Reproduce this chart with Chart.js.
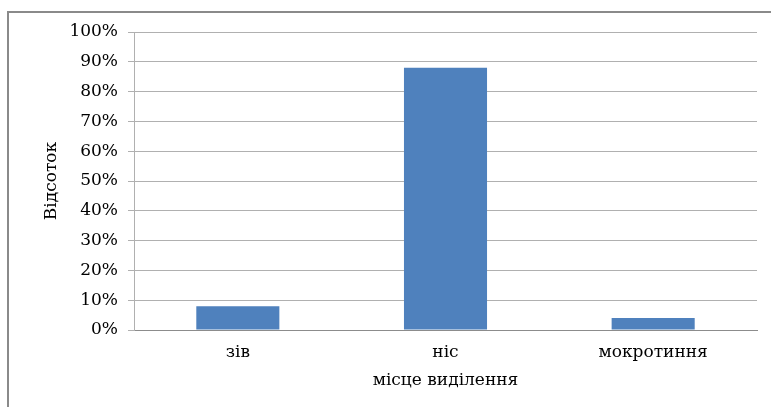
<!DOCTYPE html>
<html>
<head>
<meta charset="utf-8">
<script src="https://cdn.jsdelivr.net/npm/chart.js@4"></script>
<style>
html,body{margin:0;padding:0;background:#fff;overflow:hidden;}
#frame{position:absolute;left:7px;top:11px;width:800px;height:420px;border:2px solid #8a8a8a;box-sizing:border-box;}
#wrap{position:absolute;left:0;top:0;width:771px;height:407px;}
</style>
</head>
<body>
<div id="frame"></div>
<div id="wrap"><canvas id="c" width="771" height="407"></canvas></div>
<script>
const categories = ['зів', 'ніс', 'мокротиння'];
const values = [8, 88, 4];
const yTicks = [0, 10, 20, 30, 40, 50, 60, 70, 80, 90, 100];
const yTitle = 'Відсоток';
const xTitle = 'місце виділення';

const FONT = '"DejaVu Serif", "Liberation Serif", serif';

new Chart(document.getElementById('c'), {
  type: 'bar',
  data: {
    labels: categories,
    datasets: [{
      data: values,
      backgroundColor: '#4F81BD',
      borderWidth: 0,
      categoryPercentage: 1,
      barPercentage: 0.4
    }]
  },
  options: {
    responsive: false,
    animation: false,
    events: [],
    layout: { padding: { left: 37, top: 32, right: 14, bottom: 16 } },
    plugins: { legend: { display: false }, tooltip: { enabled: false } },
    scales: {
      x: {
        grid: { display: false, drawTicks: false },
        border: { color: '#8c8c8c', width: 1 },
        ticks: { color: '#000', font: { family: FONT, size: 17 }, padding: 12 },
        title: { display: true, text: xTitle, color: '#000', font: { family: FONT, size: 17 }, padding: { top: 0, bottom: 0 } },
        afterFit: s => { s.height = 61; }
      },
      y: {
        min: 0, max: 100,
        afterBuildTicks: s => { s.ticks = yTicks.map(v => ({ value: v })); },
        grid: { color: '#b0b0b0', lineWidth: 1, tickLength: 6, tickColor: '#b0b0b0' },
        border: { color: '#b0b0b0', width: 1 },
        ticks: { color: '#000', font: { family: FONT, size: 17 }, padding: 10, callback: v => v + '%' },
        title: { display: true, text: yTitle, color: '#000', font: { family: FONT, size: 17 }, padding: { top: 4, bottom: 4 } },
        afterFit: s => { s.width = 97; }
      }
    }
  }
});
</script>
</body>
</html>
